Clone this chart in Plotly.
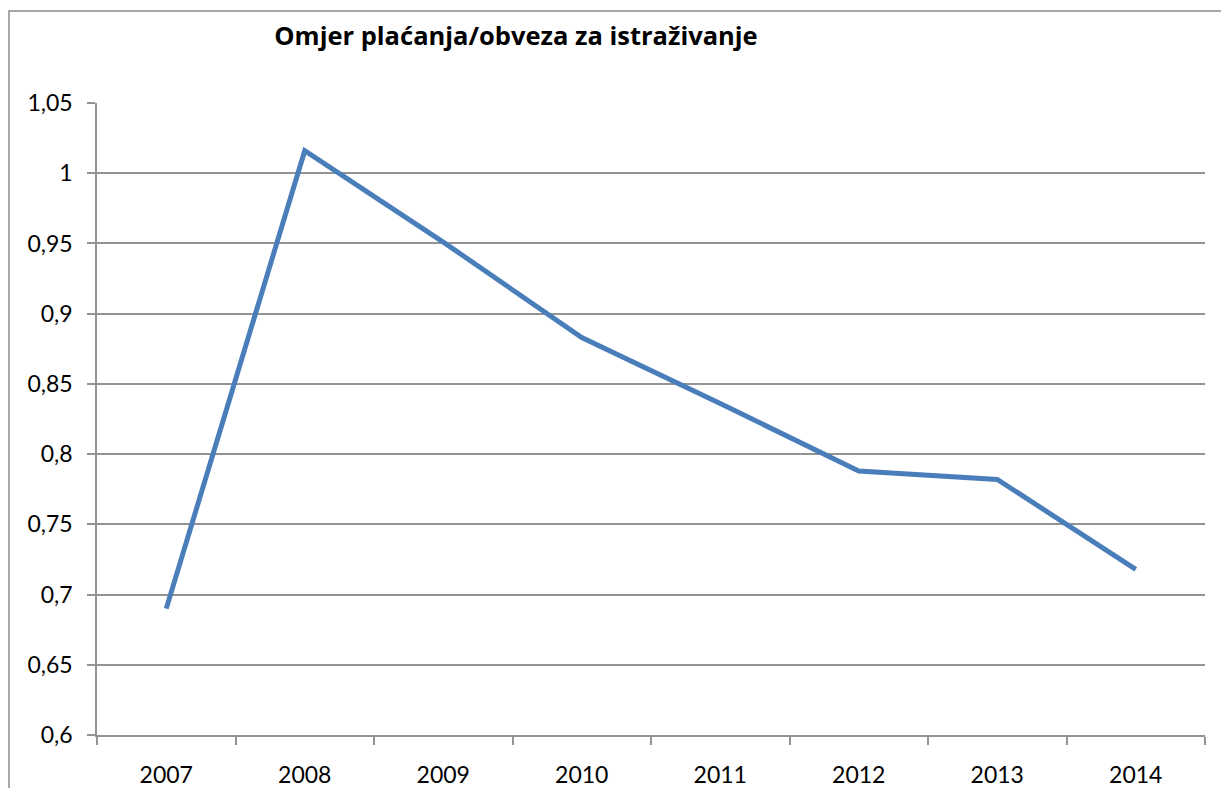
import plotly.graph_objects as go

years = ["2007", "2008", "2009", "2010", "2011", "2012", "2013", "2014"]
ratio = [0.690, 1.016, 0.951, 0.883, 0.836, 0.788, 0.782, 0.718]

y_ticks = [0.6, 0.65, 0.7, 0.75, 0.8, 0.85, 0.9, 0.95, 1.0, 1.05]
y_tick_labels = ["0,6", "0,65", "0,7", "0,75", "0,8", "0,85", "0,9", "0,95", "1", "1,05"]

title_text = "Omjer plaćanja/obveza za istraživanje"

GRID = "#939393"
LINE = "#4A7EBB"
FONT = "Lato, 'Open Sans', sans-serif"

# page body has an 8px margin, so the figure is sized to fit inside it
W, H = 1213, 780
L, T = 89, 95
PW, PH = 1108, 632

fig = go.Figure(
    data=go.Scatter(
        x=years,
        y=ratio,
        mode="lines",
        line={"color": LINE, "width": 5},
        hoverinfo="x+y",
    ),
)

fig.update_layout(
    width=W,
    height=H,
    margin={"l": L, "r": W - L - PW, "t": T, "b": H - T - PH, "pad": 0},
    paper_bgcolor="white",
    plot_bgcolor="white",
    showlegend=False,
    font={"family": FONT, "size": 23, "color": "black"},
    title={
        "text": title_text,
        "font": {"family": "'Open Sans', sans-serif", "size": 25.5, "color": "black", "weight": "bold"},
        "x": 508 / W,
        "xanchor": "center",
        "y": 1 - 28 / H,
        "yanchor": "middle",
    },
    xaxis={
        "type": "category",
        "range": [-0.5, len(years) - 0.5],
        "tickson": "boundaries",
        "ticks": "outside",
        "ticklen": 8,
        "tickwidth": 1.5,
        "tickcolor": GRID,
        "showline": True,
        "linecolor": GRID,
        "linewidth": 1.5,
        "showgrid": False,
        "ticklabelstandoff": 19,
        "automargin": False,
        "fixedrange": True,
    },
    yaxis={
        "range": [0.6, 1.05],
        "tickvals": y_ticks,
        "ticktext": y_tick_labels,
        "ticks": "outside",
        "ticklen": 8,
        "tickwidth": 1.5,
        "tickcolor": GRID,
        "showline": True,
        "linecolor": GRID,
        "linewidth": 1.5,
        "showgrid": True,
        "gridcolor": GRID,
        "gridwidth": 1.5,
        "zeroline": False,
        "ticklabelstandoff": 10,
        "automargin": False,
        "fixedrange": True,
    },
    shapes=[
        {
            "type": "rect",
            "xref": "paper",
            "yref": "paper",
            "x0": (1 - L) / PW,
            "x1": 1.2,
            "y0": -0.3,
            "y1": 1 + (T - 3) / PH,
            "line": {"color": "#8a8a8a", "width": 1.5},
            "layer": "below",
        }
    ],
)

fig.write_html("out.html")
